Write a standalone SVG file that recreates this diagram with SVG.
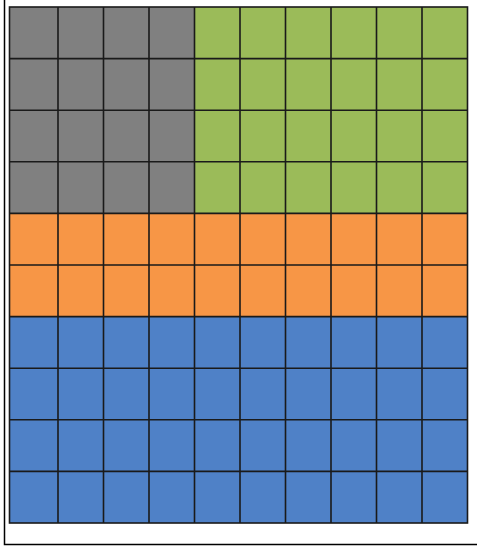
<svg xmlns="http://www.w3.org/2000/svg" width="477" height="547" viewBox="0 0 477 547">
  <style>
    .grid { stroke: #1a1a1a; stroke-width: 1.6; fill: none; }
    .frame { stroke: #000; stroke-width: 1.5; fill: none; }
  </style>
  <rect x="0" y="0" width="477" height="547" fill="#ffffff"/>
  <path class="frame" d="M4.5,0 V544.5 H477"/>
  <g id="regions">
    <rect x="9.5" y="7" width="185" height="206.5" fill="#808080"/>
    <rect x="194.5" y="7" width="273" height="206.5" fill="#9bbb59"/>
    <rect x="9.5" y="213.5" width="458" height="103.5" fill="#f79646"/>
    <rect x="9.5" y="317" width="458" height="206" fill="#4f81c7"/>
  </g>
  <g id="gridlines" class="grid">
    <rect x="9.5" y="7" width="458" height="516"/>
    <path d="M58,7 V523 M103.5,7 V523 M149,7 V523 M194.5,7 V523 M240,7 V523 M285.5,7 V523 M331,7 V523 M376.5,7 V523 M422,7 V523"/>
    <path d="M9.5,58.6 H467.5 M9.5,110.2 H467.5 M9.5,161.8 H467.5 M9.5,213.4 H467.5 M9.5,265 H467.5 M9.5,316.6 H467.5 M9.5,368.2 H467.5 M9.5,419.8 H467.5 M9.5,471.4 H467.5"/>
  </g>
</svg>
